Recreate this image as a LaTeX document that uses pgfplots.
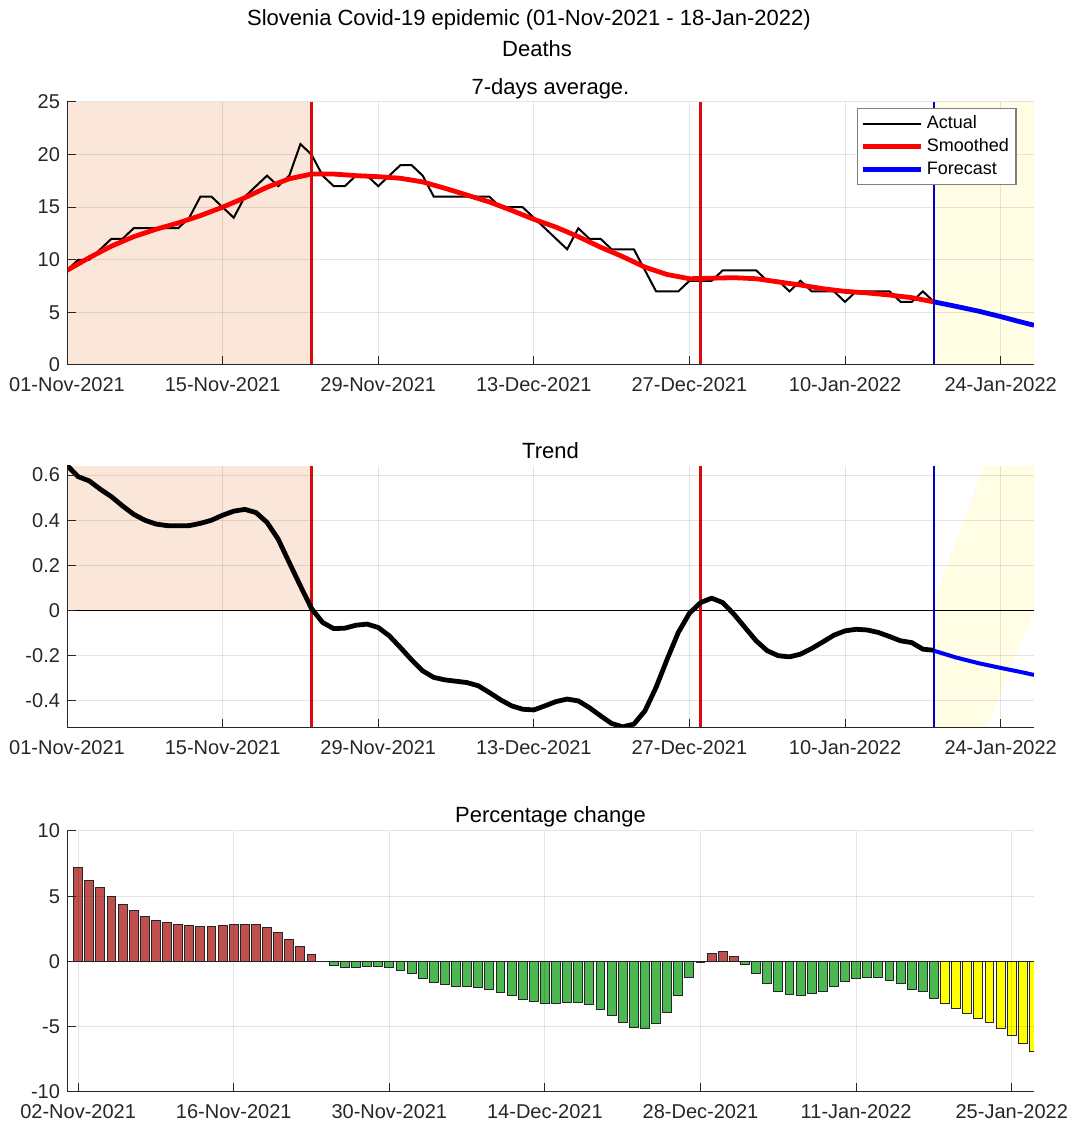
\documentclass[border=0pt]{standalone}
\usepackage{fontspec}
\setmainfont{Liberation Sans}
\usepackage{pgfplots}
\pgfplotsset{compat=1.18}
\usepackage{pgfplotstable}

\definecolor{tickgray}{RGB}{38,38,38}
\definecolor{shadeorange}{RGB}{251,231,217}
\definecolor{shadeyellow}{RGB}{255,253,228}
\definecolor{barred}{RGB}{192,80,77}
\definecolor{bargreen}{RGB}{76,184,80}
\definecolor{baryellow}{RGB}{255,255,0}
\definecolor{vred}{RGB}{220,10,10}
\definecolor{vblue}{RGB}{0,0,200}

% 7-day average of deaths (day 0 = 01-Nov-2021)
\pgfplotstableread{
d v
0 9
1 10
2 10
3 11
4 12
5 12
6 13
7 13
8 13
9 13
10 13
11 14
12 16
13 16
14 15
15 14
16 16
17 17
18 18
19 17
20 18
21 21
22 20
23 18
24 17
25 17
26 18
27 18
28 17
29 18
30 19
31 19
32 18
33 16
34 16
35 16
36 16
37 16
38 16
39 15
40 15
41 15
42 14
43 13
44 12
45 11
46 13
47 12
48 12
49 11
50 11
51 11
52 9
53 7
54 7
55 7
56 8
57 8
58 8
59 9
60 9
61 9
62 9
63 8
64 8
65 7
66 8
67 7
68 7
69 7
70 6
71 7
72 7
73 7
74 7
75 6
76 6
77 7
78 6
}\actual

\pgfplotstableread{
d v
0 9.0
2 10.2
4 11.3
6 12.2
8 12.9
10 13.5
12 14.2
14 15.0
16 15.9
18 16.9
20 17.7
22 18.15
24 18.15
26 18.0
28 17.9
30 17.75
32 17.4
34 16.8
36 16.15
38 15.5
40 14.7
42 13.85
44 13.1
46 12.2
48 11.2
50 10.3
52 9.3
54 8.6
56 8.2
58 8.25
60 8.3
62 8.2
64 7.9
66 7.6
68 7.25
70 7.0
72 6.85
74 6.65
76 6.4
78 6.0
}\smoothed

\pgfplotstableread{
d v
78 6.0
80 5.57
82 5.12
84 4.6
86 4.04
87 3.78
}\forecast

\pgfplotstableread{
d v
0 0.643
1 0.593
2 0.574
3 0.537
4 0.504
5 0.463
6 0.426
7 0.400
8 0.383
9 0.376
10 0.375
11 0.376
12 0.386
13 0.400
14 0.422
15 0.440
16 0.448
17 0.434
18 0.390
19 0.316
20 0.212
21 0.109
22 0.009
23 -0.053
24 -0.080
25 -0.078
26 -0.065
27 -0.060
28 -0.075
29 -0.112
30 -0.164
31 -0.218
32 -0.267
33 -0.296
34 -0.307
35 -0.313
36 -0.319
37 -0.333
38 -0.363
39 -0.395
40 -0.422
41 -0.437
42 -0.440
43 -0.422
44 -0.403
45 -0.392
46 -0.400
47 -0.430
48 -0.466
49 -0.500
50 -0.515
51 -0.503
52 -0.444
53 -0.340
54 -0.215
55 -0.097
56 -0.012
57 0.035
58 0.055
59 0.035
60 -0.016
61 -0.075
62 -0.134
63 -0.178
64 -0.200
65 -0.205
66 -0.193
67 -0.168
68 -0.139
69 -0.109
70 -0.090
71 -0.083
72 -0.086
73 -0.097
74 -0.115
75 -0.134
76 -0.142
77 -0.171
78 -0.176
}\trend

\pgfplotstableread{
d v
78 -0.178
80 -0.208
82 -0.233
84 -0.254
86 -0.274
87 -0.285
}\trendfc

% percentage change, split by colour
\pgfplotstableread{
d v
1 7.23
2 6.23
3 5.69
4 4.97
5 4.38
6 3.87
7 3.41
8 3.13
9 2.97
10 2.85
11 2.77
12 2.69
13 2.69
14 2.74
15 2.82
16 2.82
17 2.82
18 2.62
19 2.20
20 1.72
21 1.13
22 0.54
58 0.62
59 0.74
60 0.36
}\pcup

\pgfplotstableread{
d v
24 -0.28
25 -0.44
26 -0.44
27 -0.36
28 -0.36
29 -0.44
30 -0.67
31 -0.95
32 -1.33
33 -1.62
34 -1.77
35 -1.90
36 -1.90
37 -2.00
38 -2.15
39 -2.36
40 -2.64
41 -2.92
42 -3.10
43 -3.23
44 -3.23
45 -3.15
46 -3.15
47 -3.30
48 -3.69
49 -4.13
50 -4.64
51 -5.08
52 -5.15
53 -4.77
54 -3.92
55 -2.64
56 -1.23
57 -0.05
61 -0.23
62 -0.95
63 -1.69
64 -2.28
65 -2.56
66 -2.64
67 -2.49
68 -2.28
69 -1.90
70 -1.54
71 -1.31
72 -1.21
73 -1.21
74 -1.46
75 -1.69
76 -2.13
77 -2.28
78 -2.87
}\pcdown

\pgfplotstableread{
d v
79 -3.23
80 -3.62
81 -3.97
82 -4.33
83 -4.69
84 -5.15
85 -5.67
86 -6.26
87 -6.90
}\pcfc

\pgfplotsset{
  panel/.style={
    scale only axis, width=483.5pt,
    xmin=0, xmax=87,
    axis x line*=bottom, axis y line*=left,
    axis line style={tickgray, line width=0.5pt},
    tick align=inside, major tick length=4.5pt,
    tick style={tickgray, line width=0.5pt},
    grid=major, grid style={black, opacity=0.1, line width=0.5pt},
    tick label style={font=\fontsize{10}{12}\selectfont, color=tickgray},
    xticklabel style={yshift=-2.5pt},
    /pgf/number format/assume math mode=true,
    axis on top,
    anchor=south west,
  },
  bg/.style={draw=none, forget plot},
  vline/.style={line width=1.1pt, forget plot},
}

\begin{document}
\begin{tikzpicture}
\path[use as bounding box] (0,0) rectangle (536.5pt,562.5pt);

\node[font=\fontsize{11}{13}\selectfont] at (264.5pt,552.5pt) {Slovenia Covid-19 epidemic (01-Nov-2021 - 18-Jan-2022)};
\node[font=\fontsize{11}{13}\selectfont] at (268.5pt,538pt) {Deaths};
\node[font=\fontsize{11}{13}\selectfont] at (275.25pt,518pt) {7-days average.};
\node[font=\fontsize{11}{13}\selectfont] at (275.25pt,337pt) {Trend};
\node[font=\fontsize{11}{13}\selectfont] at (275.25pt,154pt) {Percentage change};

% panel 1
\begin{axis}[panel, at={(33.5pt,380pt)}, height=131.5pt,
  ymin=0, ymax=25, ytick={0,5,...,25},
  xtick={0,14,...,84},
  xticklabels={01-Nov-2021,15-Nov-2021,29-Nov-2021,13-Dec-2021,27-Dec-2021,10-Jan-2022,24-Jan-2022},
  legend style={at={(0.982,0.977)}, anchor=north east, draw=gray, line width=0.6pt,
    font=\fontsize{9}{10}\selectfont, inner sep=1.5pt, row sep=-0.5pt},
  legend cell align=left,
  legend image code/.code={\draw[#1] (0pt,0pt) -- (29pt,0pt);},
]
\addplot[bg, fill=shadeorange] coordinates {(0,0) (22,0) (22,25) (0,25)};
\addplot[bg, fill=shadeyellow] coordinates {(78,0) (87,0) (87,25) (78,25)};
\addplot[black, line width=1pt] table[x=d, y=v] {\actual};
\addlegendentry{Actual}
\addplot[red, line width=2.4pt] table[x=d, y=v] {\smoothed};
\addlegendentry{Smoothed}
\addplot[blue, line width=2.4pt] table[x=d, y=v] {\forecast};
\addlegendentry{Forecast}
\addplot[vline, color=vred] coordinates {(22,0) (22,25)};
\addplot[vline, color=vred] coordinates {(57,0) (57,25)};
\addplot[vline, color=vblue] coordinates {(78,0) (78,25)};
\end{axis}

% panel 2
\begin{axis}[panel, at={(33.5pt,198.5pt)}, height=131pt,
  ymin=-0.52, ymax=0.64, ytick={-0.4,-0.2,0,0.2,0.4,0.6},
  yticklabels={-0.4,-0.2,0,0.2,0.4,0.6},
  xtick={0,14,...,84},
  xticklabels={01-Nov-2021,15-Nov-2021,29-Nov-2021,13-Dec-2021,27-Dec-2021,10-Jan-2022,24-Jan-2022},
]
\addplot[bg, fill=shadeorange] coordinates {(0,0) (22,0) (22,0.64) (0,0.64)};
\addplot[bg, fill=shadeyellow] coordinates {(78,0.04) (82.5,0.64) (87,0.64) (87,0.0) (82.7,-0.52) (78,-0.52)};
\addplot[black, line width=0.5pt] coordinates {(0,0) (87,0)};
\addplot[vline, color=vred] coordinates {(22,-0.52) (22,0.64)};
\addplot[vline, color=vred] coordinates {(57,-0.52) (57,0.64)};
\addplot[vline, color=vblue] coordinates {(78,-0.52) (78,0.64)};
\addplot[black, line width=2.4pt, line join=round] table[x=d, y=v] {\trend};
\addplot[blue, line width=2pt] table[x=d, y=v] {\trendfc};
\end{axis}

% panel 3
\begin{axis}[panel, at={(33.5pt,16.5pt)}, height=130.5pt,
  ymin=-10, ymax=10, ytick={-10,-5,0,5,10},
  xtick={1,15,...,85},
  xticklabels={02-Nov-2021,16-Nov-2021,30-Nov-2021,14-Dec-2021,28-Dec-2021,11-Jan-2022,25-Jan-2022},
]
\addplot[tickgray, line width=0.6pt] coordinates {(0,0) (87,0)};
\addplot[ybar, bar width=0.8, bar shift=0pt, fill=barred, draw=black!85, line width=0.5pt] table[x=d, y=v] {\pcup};
\addplot[ybar, bar width=0.8, bar shift=0pt, fill=bargreen, draw=black!85, line width=0.5pt] table[x=d, y=v] {\pcdown};
\addplot[ybar, bar width=0.8, bar shift=0pt, fill=baryellow, draw=black!85, line width=0.5pt] table[x=d, y=v] {\pcfc};
\end{axis}
\end{tikzpicture}
\end{document}
